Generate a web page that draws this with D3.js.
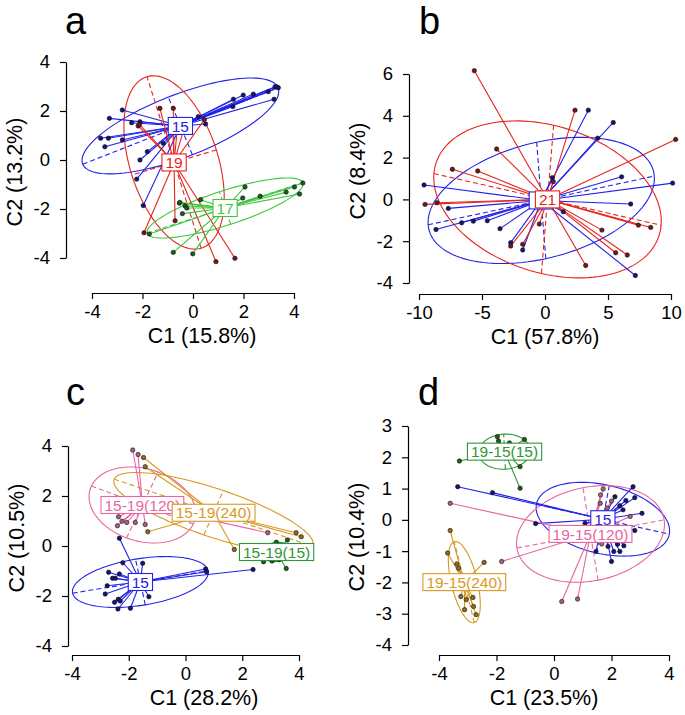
<!DOCTYPE html>
<html>
<head>
<meta charset="utf-8">
<script src="https://cdn.jsdelivr.net/npm/d3@7"></script>
<style>
body { margin: 0; background: #fff; }
svg { font-family: "Liberation Sans", Arial, sans-serif; }
</style>
</head>
<body>
<svg id="chart" width="685" height="715"></svg>
<script>
// ---- panel a ----
var aTicksX = [-4, -2, 0, 2, 4];
var aTicksY = [-4, -2, 0, 2, 4];
var aLabels = ["15", "19", "17"];
var aCentroids = [[-0.50, 1.39], [-0.75, -0.10], [1.27, -1.96]];
// semi-major, semi-minor, angle of major axis (degrees, data space)
var aEllipses = [[4.17, 1.27, 22], [3.66, 1.75, 107], [3.25, 0.70, 18.5]];
var aBlue = [[1.60, 2.48], [1.99, 2.65], [2.39, 2.69], [2.98, 2.79], [3.25, 2.99], [3.38, 2.95], [3.31, 2.99],
    [3.21, 2.48], [1.58, 2.18], [0.50, 1.47], [0.21, 1.77], [-3.31, 1.70], [-2.80, 2.04], [-2.43, 1.52],
    [-2.10, 1.56], [-3.66, 0.89], [-3.35, 0.89], [-2.80, 0.82], [-3.49, 0.54], [-2.10, 0.00], [-1.81, 0.34],
    [-2.23, -0.78], [-1.97, -1.86], [-1.18, 0.68]];
var aRed = [[-1.31, 2.11], [-0.78, 2.11], [-2.17, 1.39], [-2.12, 1.45], [-0.71, -2.48], [-1.94, -2.97],
    [0.91, -4.15], [1.66, -4.01], [-0.80, 1.30], [-0.35, 1.30], [0.45, 1.65], [-0.60, 1.50]];
var aGreen = [[4.35, -0.94], [4.02, -1.10], [3.69, -1.31], [4.22, -1.39], [2.66, -1.48], [2.06, -1.10],
    [1.97, -1.55], [0.30, -1.62], [-0.54, -1.76], [-0.32, -1.87], [-0.25, -1.96], [-0.42, -2.19],
    [-1.73, -3.02], [-0.78, -3.77], [-0.01, -3.83], [-0.52, -1.73]];

// ---- panel b ----
var bTicksX = [-10, -5, 0, 5, 10];
var bTicksY = [-4, -2, 0, 2, 4, 6];
var bLabels = ["", "21"]; // blue box sits under the red one, its text is not visible
var bCentroids = [[-0.30, -0.05], [0.20, 0.00]];
var bEllipses = [[9.05, 2.81, 7.4], [9.10, 3.58, -7.8]];
var bBlue = [[-9.60, 0.69], [-8.65, -1.44], [-7.67, -0.43], [-6.61, -1.12], [-5.69, -1.04], [-4.58, -1.02],
    [-3.57, -1.40], [-2.72, -2.07], [-1.77, -2.42], [0.58, 1.04], [3.44, 4.27], [5.42, 3.68], [4.18, 2.93],
    [6.08, 1.08], [6.80, -0.22], [10.13, 0.78], [7.17, -3.64], [1.45, -0.59]];
var bRed = [[-5.61, 6.16], [-3.84, 2.41], [-7.35, 1.44], [-5.34, 1.36], [-9.52, -0.24], [-8.57, -0.16],
    [2.38, 4.27], [0.66, 0.85], [10.37, 2.87], [7.41, -1.23], [8.39, -1.34], [4.52, -1.47], [5.61, -2.55],
    [6.53, -2.66], [3.23, -3.16], [-0.45, -1.18], [-1.77, -2.15], [-2.72, -2.23]];

// ---- panel c ----
var cTicksX = [-4, -2, 0, 2, 4];
var cTicksY = [-4, -2, 0, 2, 4];
var cLabels = ["15", "15-19(120)", "15-19(240)", "15-19(15)"];
var cCentroids = [[-1.59, -1.44], [-1.52, 1.64], [0.99, 1.33], [3.21, -0.24]];
var cEllipses = [[2.43, 0.93, 10.6], [1.95, 1.43, -23], [3.75, 0.95, -21], [0.55, 0.38, 10]];
var cBlue = [[-2.33, 0.31], [-2.21, -0.67], [-1.51, -0.69], [-2.71, -1.05], [-2.57, -1.29], [-2.47, -1.29],
    [-2.33, -1.12], [-2.76, -1.59], [-2.83, -1.92], [-2.37, -2.13], [-2.50, -2.25], [-2.30, -2.20],
    [-2.38, -2.52], [-1.94, -2.49], [-1.29, -2.03], [0.71, -0.92], [0.74, -1.03], [2.38, -0.94]];
var cPink = [[-1.86, 3.84], [-1.67, 3.66], [-2.36, 1.17], [-2.24, 0.99], [-2.40, 0.81], [-2.07, 0.94],
    [-1.77, 0.94], [-1.42, 0.86], [2.90, 0.53]];
var cGold = [[-1.48, 3.54], [-1.42, 3.17], [-1.33, 0.57], [1.72, -0.14], [3.90, 0.53], [4.08, 0.37]];
var cGreen = [[3.59, 0.24], [3.20, 0.15], [3.55, -0.90], [2.75, -0.63], [3.05, -0.60], [3.30, -0.55]];

// ---- panel d ----
var dTicksX = [-4, -2, 0, 2, 4];
var dTicksY = [-4, -3, -2, -1, 0, 1, 2, 3];
var dLabels = ["15", "19-15(120)", "19-15(240)", "19-15(15)"];
var dCentroids = [[1.70, 0.02], [1.27, -0.45], [-3.12, -1.99], [-1.72, 2.18]];
var dEllipses = [[2.36, 1.10, -11.7], [2.60, 1.50, 10], [1.34, 0.45, 105], [0.90, 0.56, 3]];
var dBlue = [[-3.35, 1.06], [-2.14, 0.87], [-0.64, -0.12], [2.75, 1.06], [2.12, 0.74], [2.81, 0.71],
    [2.50, 0.62], [2.29, 0.45], [2.40, 0.32], [3.06, 0.21], [2.81, -0.34], [2.43, -0.83], [2.21, -0.78],
    [2.29, -1.01], [2.08, -1.01], [1.46, -1.01], [2.00, -1.33], [1.88, -0.85], [1.08, -0.11]];
var dPink = [[-3.61, 0.53], [-1.82, -1.33], [0.27, -2.61], [0.82, -2.53], [1.71, 0.99], [1.62, 0.80],
    [1.61, 0.53], [1.66, 0.23], [2.65, 0.11], [1.66, -0.77], [1.85, 0.38], [2.30, -0.30], [2.00, 0.60]];
var dGold = [[-3.61, -0.34], [-3.70, -1.06], [-3.38, -1.41], [-3.32, -1.55], [-2.43, -1.36], [-3.24, -2.45],
    [-2.82, -2.48], [-3.05, -2.55], [-3.11, -2.87], [-2.80, -2.77], [-2.71, -3.03]];
var dGreen = [[-3.29, 1.88], [-1.97, 2.66], [-1.93, 2.52], [-1.55, 2.46], [-1.03, 2.57], [-1.18, 1.70],
    [-1.18, 1.01], [-1.60, 2.35]];

var BLUE = "#2222ea", RED = "#e8231d", LIME = "#3cc63c", GREEN = "#2e9636", PINK = "#e8659f", GOLD = "#d9981f";
var fill = {};
fill[BLUE] = "#14147a"; fill[RED] = "#7a1414"; fill[LIME] = "#1f5a1f"; fill[GREEN] = "#1f5a1f";
fill[PINK] = "#a8607e"; fill[GOLD] = "#8c6a22";

function groups(pts, cents, ells, labels, cols) {
    return pts.map(function(p, i) {
        return {pts: p, c: cents[i], e: ells[i], label: labels[i], col: cols[i]};
    });
}

var panels = [
    {letter: "a", lx: 65, ly: 34, xl: "C1 (15.8%)", yl: "C2 (13.2%)", xt: aTicksX, yt: aTicksY,
        px: [92, 294], py: [258, 62], yAxisX: 66, xAxisY: 293, xlabX: 202, ylabY: 172,
        groups: groups([aBlue, aRed, aGreen], aCentroids, aEllipses, aLabels, [BLUE, RED, LIME])},
    {letter: "b", lx: 419, ly: 34, xl: "C1 (57.8%)", yl: "C2 (8.4%)", xt: bTicksX, yt: bTicksY,
        px: [419, 671], py: [283, 74], yAxisX: 409, xAxisY: 294, xlabX: 545, ylabY: 171,
        groups: groups([bBlue, bRed], bCentroids, bEllipses, bLabels, [BLUE, RED])},
    {letter: "c", lx: 66, ly: 405, xl: "C1 (28.2%)", yl: "C2 (10.5%)", xt: cTicksX, yt: cTicksY,
        px: [72, 299], py: [646, 446], yAxisX: 68, xAxisY: 655, xlabX: 204, ylabY: 538,
        groups: groups([cBlue, cPink, cGold, cGreen], cCentroids, cEllipses, cLabels, [BLUE, PINK, GOLD, GREEN])},
    {letter: "d", lx: 418, ly: 405, xl: "C1 (23.5%)", yl: "C2 (10.4%)", xt: dTicksX, yt: dTicksY,
        px: [439, 669], py: [645, 426], yAxisX: 408, xAxisY: 655, xlabX: 544, ylabY: 537,
        groups: groups([dBlue, dPink, dGold, dGreen], dCentroids, dEllipses, dLabels, [BLUE, PINK, GOLD, GREEN])}
];

var svg = d3.select("#chart");

function ellipsePoints(c, e) {
    var a = e[0], b = e[1], ang = e[2] * Math.PI / 180;
    return d3.range(0, 361, 3).map(function(deg) {
        var t = deg * Math.PI / 180;
        return [c[0] + a * Math.cos(t) * Math.cos(ang) - b * Math.sin(t) * Math.sin(ang),
                c[1] + a * Math.cos(t) * Math.sin(ang) + b * Math.sin(t) * Math.cos(ang)];
    });
}

function drawPanel(p) {
    var x = d3.scaleLinear().domain([p.xt[0], p.xt[p.xt.length - 1]]).range(p.px);
    var y = d3.scaleLinear().domain([p.yt[0], p.yt[p.yt.length - 1]]).range(p.py);
    var g = svg.append("g");

    // axes, R style: detached from each other
    var xa = g.append("g")
        .attr("transform", "translate(0," + p.xAxisY + ")")
        .call(d3.axisBottom(x).tickValues(p.xt).tickSize(6).tickSizeOuter(0).tickPadding(6)
            .tickFormat(function(d) { return String(d); }));
    var ya = g.append("g")
        .attr("transform", "translate(" + p.yAxisX + ",0)")
        .call(d3.axisLeft(y).tickValues(p.yt).tickSize(6).tickSizeOuter(0).tickPadding(10)
            .tickFormat(function(d) { return String(d); }));
    [xa, ya].forEach(function(ax) {
        ax.attr("font-family", null).attr("font-size", null);
        ax.selectAll("path, line").attr("stroke", "#000").attr("stroke-width", 1.2);
        ax.selectAll("text").attr("fill", "#000").style("font-size", "18.5px");
    });

    g.append("text").attr("x", p.lx).attr("y", p.ly).style("font-size", "38px").text(p.letter);
    g.append("text").attr("x", p.xlabX).attr("y", p.xAxisY + 50)
        .attr("text-anchor", "middle").style("font-size", "21.5px").text(p.xl);
    g.append("text")
        .attr("transform", "translate(" + (p.yAxisX - 44) + "," + p.ylabY + ") rotate(-90)")
        .attr("text-anchor", "middle").style("font-size", "21.5px").text(p.yl);

    var line = d3.line().x(function(d) { return x(d[0]); }).y(function(d) { return y(d[1]); });

    // ellipses with their principal axes
    p.groups.forEach(function(gr) {
        g.append("path").attr("d", line.curve(d3.curveLinearClosed)(ellipsePoints(gr.c, gr.e)))
            .attr("fill", "none").attr("stroke", gr.col).attr("stroke-width", 1.1);
        line.curve(d3.curveLinear);
        var a = gr.e[0], b = gr.e[1], ang = gr.e[2] * Math.PI / 180;
        var ux = Math.cos(ang), uy = Math.sin(ang);
        [[a * ux, a * uy], [-b * uy, b * ux]].forEach(function(v) {
            g.append("path")
                .attr("d", line([[gr.c[0] - v[0], gr.c[1] - v[1]], [gr.c[0] + v[0], gr.c[1] + v[1]]]))
                .attr("stroke", gr.col).attr("stroke-width", 1.1).attr("stroke-dasharray", "5,3");
        });
    });

    // spider lines to the centroid
    p.groups.forEach(function(gr) {
        g.append("g").selectAll("line").data(gr.pts).enter().append("line")
            .attr("x1", x(gr.c[0])).attr("y1", y(gr.c[1]))
            .attr("x2", function(d) { return x(d[0]); })
            .attr("y2", function(d) { return y(d[1]); })
            .attr("stroke", gr.col).attr("stroke-width", 1.1);
    });

    p.groups.forEach(function(gr) {
        g.append("g").selectAll("circle").data(gr.pts).enter().append("circle")
            .attr("cx", function(d) { return x(d[0]); })
            .attr("cy", function(d) { return y(d[1]); })
            .attr("r", 2.2)
            .attr("fill", fill[gr.col]).attr("stroke", "#111").attr("stroke-width", 0.6);
    });

    // centroid labels in boxes
    p.groups.forEach(function(gr) {
        var lg = g.append("g");
        var cx = x(gr.c[0]), cy = y(gr.c[1]);
        var t = lg.append("text").attr("x", cx).attr("y", cy).attr("dy", "0.36em")
            .attr("text-anchor", "middle").attr("fill", gr.col).style("font-size", "15.5px").text(gr.label);
        var w = gr.label ? t.node().getComputedTextLength() : 17;
        lg.insert("rect", "text").attr("x", cx - w / 2 - 3.5).attr("y", cy - 8.5)
            .attr("width", w + 7).attr("height", 17)
            .attr("fill", "#fff").attr("stroke", gr.col).attr("stroke-width", 1.1);
    });
}

panels.forEach(drawPanel);
</script>
</body>
</html>
